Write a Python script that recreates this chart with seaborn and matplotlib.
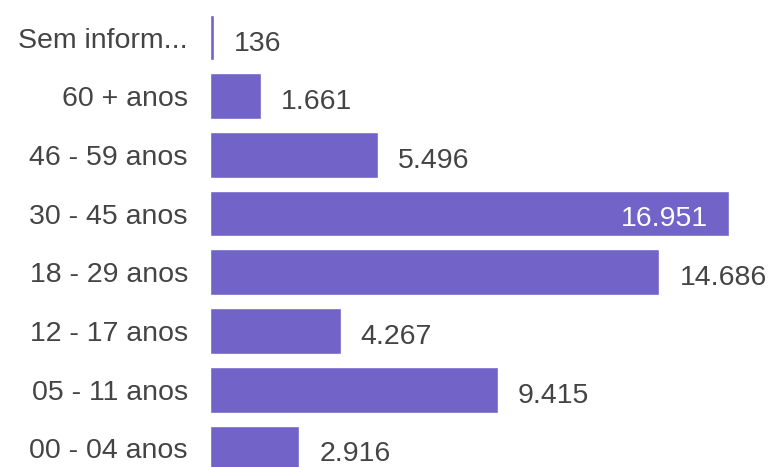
import matplotlib
matplotlib.use("Agg")
import matplotlib.pyplot as plt
import seaborn as sns
import pandas as pd

faixas = ['Sem inform...', '60 + anos', '46 - 59 anos', '30 - 45 anos',
          '18 - 29 anos', '12 - 17 anos', '05 - 11 anos', '00 - 04 anos']
casos = [136, 1661, 5496, 16951, 14686, 4267, 9415, 2916]

BAR = '#7263c9'
TXT = '#444444'
FS = 20.5

df = pd.DataFrame({'faixa': faixas, 'casos': casos})

sns.set_style('white')
plt.rcParams['font.family'] = ['Liberation Sans', 'DejaVu Sans']

fig = plt.figure(figsize=(7.69, 4.67), dpi=100)
ax = fig.add_axes([210 / 769, 0, 559 / 769, 1])

sns.barplot(data=df, x='casos', y='faixa', orient='h', color=BAR,
            saturation=1, width=0.78, ax=ax)

ax.set_xlim(0, 18268)
ax.set_ylim(7.317, -0.639)

for i, v in enumerate(casos):
    lab = f"{v:,}".replace(',', '.')
    if v == max(casos):
        ax.annotate(lab, (v, i), xytext=(-21, -2), textcoords='offset pixels',
                    ha='right', va='center_baseline', fontsize=FS, color='white')
    else:
        ax.annotate(lab, (v, i), xytext=(20, -3), textcoords='offset pixels',
                    ha='left', va='center_baseline', fontsize=FS, color=TXT)

ax.set_xlabel('')
ax.set_ylabel('')
ax.set_xticks([])
ax.tick_params(axis='y', length=0, pad=16, labelsize=FS, labelcolor=TXT)
for t in ax.get_yticklabels():
    t.set_va('center_baseline')
sns.despine(ax=ax, left=True, bottom=True)

fig.savefig('out.png', dpi=100)
